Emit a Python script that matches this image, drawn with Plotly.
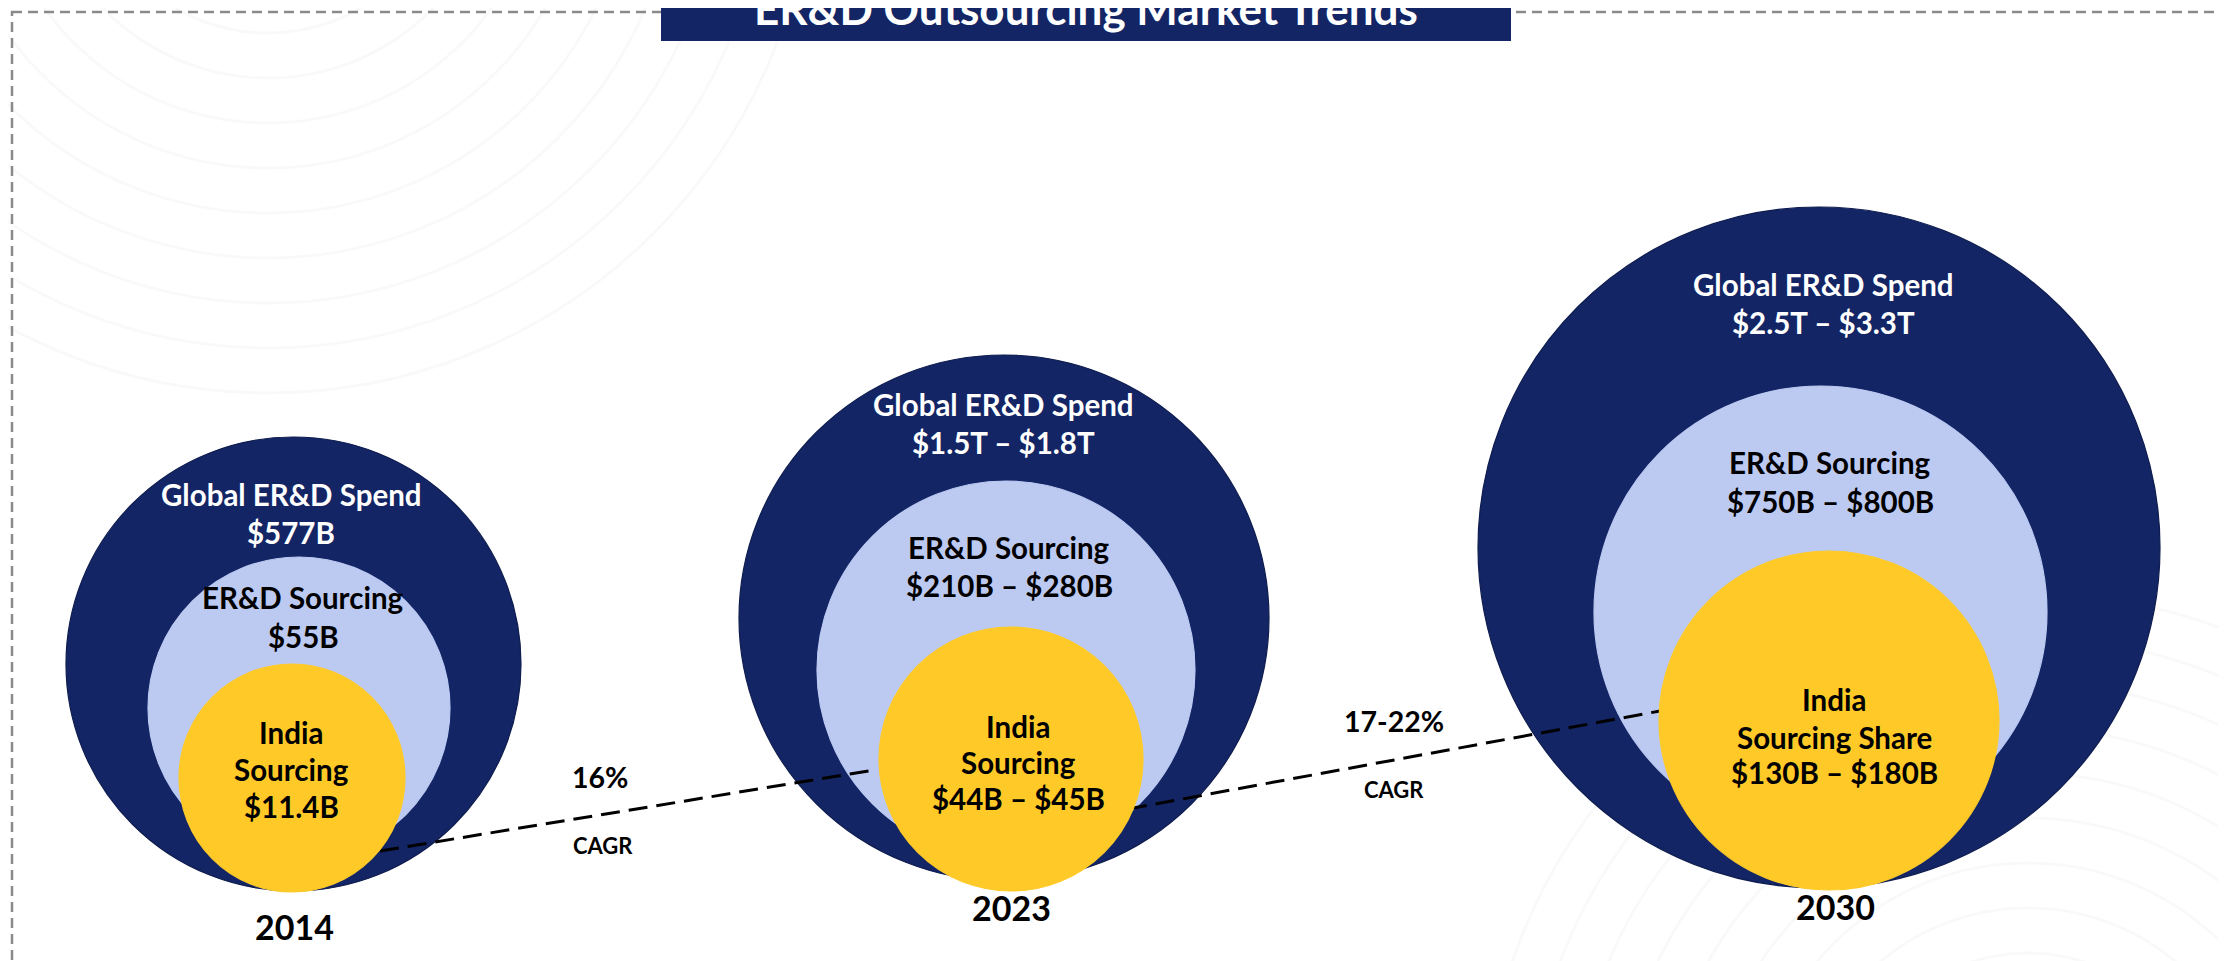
import plotly.graph_objects as go

# ---------------- data ----------------
years = ["2014", "2023", "2030"]
global_label = ["Global ER&D Spend", "Global ER&D Spend", "Global ER&D Spend"]
global_spend = ["$577B", "$1.5T – $1.8T", "$2.5T – $3.3T"]
sourcing_label = ["ER&D Sourcing", "ER&D Sourcing", "ER&D Sourcing"]
sourcing_value = ["$55B", "$210B – $280B", "$750B – $800B"]
india_line1 = ["India", "India", "India"]
india_line2 = ["Sourcing", "Sourcing", "Sourcing Share"]
india_value = ["$11.4B", "$44B – $45B", "$130B – $180B"]
cagr_values = ["16%", "17-22%"]
cagr_label = ["CAGR", "CAGR"]
title = "ER&D Outsourcing Market Trends"

# ---------------- layout geometry (pixels of a 2226x961 canvas) ----------------
W, H = 2226, 961
outer_geo = [(285.5, 656, 227.5, 227), (996, 610, 265, 263), (1811, 539.5, 341, 340.5)]
light_geo = [(291, 700, 151, 151), (998, 662, 189, 189), (1812.5, 604, 226.5, 226)]
yellow_geo = [(284, 770, 113, 114), (1003, 751, 132, 132), (1821, 712.5, 170, 169.5)]

global_pos = [(283, 495, 533), (995, 405, 443), (1815, 285, 323)]
sourcing_pos = [(295, 598, 637), (1001, 548, 586), (1822, 463, 502)]
india_pos = [(283, 733, 770, 807), (1010, 727, 763, 799), (1826, 700, 738, 773)]
year_pos = [(286, 927), (1003, 908), (1827, 907)]
cagr_pos = [(592, 778, 595, 846), (1386, 722, 1386, 790)]
dash_lines = [((372, 843), (866, 762)), ((1120, 801), (1652, 703))]

NAVY = "#132565"
LIGHT = "#BCCAF2"
YELLOW = "#FFCA28"
FONT = "Lato"
FS = 29.5
YSHIFT = 9

fig = go.Figure()
fig.add_trace(go.Scatter(x=[0, W], y=[0, H], mode="markers", marker=dict(opacity=0), hoverinfo="skip", showlegend=False))

shapes = []

# faint background texture arcs
for i in range(10):
    r = 140 + i * 45
    shapes.append(dict(type="circle", xref="x", yref="y", x0=260 - r, x1=260 + r, y0=-160 - r, y1=-160 + r,
                       line=dict(color="rgba(0,0,0,0.025)", width=3), fillcolor="rgba(0,0,0,0)", layer="below"))
for i in range(10):
    r = 140 + i * 45
    shapes.append(dict(type="circle", xref="x", yref="y", x0=2020 - r, x1=2020 + r, y0=1130 - r, y1=1130 + r,
                       line=dict(color="rgba(0,0,0,0.025)", width=3), fillcolor="rgba(0,0,0,0)", layer="below"))

# dashed frame
shapes.append(dict(type="rect", xref="x", yref="y", x0=4, x1=2222, y0=4, y1=956,
                   line=dict(color="#8a8a8a", width=2.5, dash="10px,6px"), fillcolor="rgba(0,0,0,0)"))

def ell(g, color, line_color=None):
    cx, cy, rx, ry = g
    return dict(type="circle", xref="x", yref="y", x0=cx - rx, x1=cx + rx, y0=cy - ry, y1=cy + ry,
                fillcolor=color, line=dict(color=line_color or color, width=1.2))

for g in outer_geo:
    shapes.append(ell(g, NAVY, "#0e1c4e"))
for g in light_geo:
    shapes.append(ell(g, LIGHT))
for (p0, p1) in dash_lines:
    shapes.append(dict(type="line", xref="x", yref="y", x0=p0[0], y0=p0[1], x1=p1[0], y1=p1[1],
                       line=dict(color="black", width=3, dash="19px,9px")))
for g in yellow_geo:
    shapes.append(ell(g, YELLOW))

# title box
shapes.append(dict(type="rect", xref="x", yref="y", x0=653, x1=1503, y0=-5, y1=33,
                   fillcolor=NAVY, line=dict(width=0)))

ann = []
def txt(x, y, s, size, color, **kw):
    ann.append(dict(x=x, y=y, xref="x", yref="y", text="<b>" + s + "</b>", showarrow=False, yshift=YSHIFT,
                    font=dict(family=FONT, size=size, color=color), xanchor="center", yanchor="middle", **kw))

for i in range(3):
    gx, gy1, gy2 = global_pos[i]
    txt(gx, gy1, global_label[i], FS, "white")
    txt(gx, gy2, global_spend[i], FS, "white")
    sx, sy1, sy2 = sourcing_pos[i]
    txt(sx, sy1, sourcing_label[i], FS, "black")
    txt(sx, sy2, sourcing_value[i], FS, "black")
    ix, iy1, iy2, iy3 = india_pos[i]
    txt(ix, iy1, india_line1[i], FS, "black")
    txt(ix, iy2, india_line2[i], FS, "black")
    txt(ix, iy3, india_value[i], FS, "black")
    yx, yy = year_pos[i]
    txt(yx, yy, years[i], 34, "black")

for i in range(2):
    x1, y1, x2, y2 = cagr_pos[i]
    txt(x1, y1, cagr_values[i], 28.5, "black")
    txt(x2, y2, cagr_label[i], 22, "black")

ann.append(dict(x=1078, y=1, xref="x", yref="paper", text="<b>" + title + "</b>", showarrow=False,
                font=dict(family=FONT, size=44, color="white"), xanchor="center", yanchor="middle"))

fig.update_layout(
    width=W, height=H, margin=dict(l=0, r=0, t=0, b=0),
    paper_bgcolor="white", plot_bgcolor="white",
    xaxis=dict(range=[0, W], visible=False, fixedrange=True),
    yaxis=dict(range=[H, 0], visible=False, fixedrange=True),
    shapes=shapes, annotations=ann, showlegend=False,
)

fig.write_html("out.html", config={"displayModeBar": False})
